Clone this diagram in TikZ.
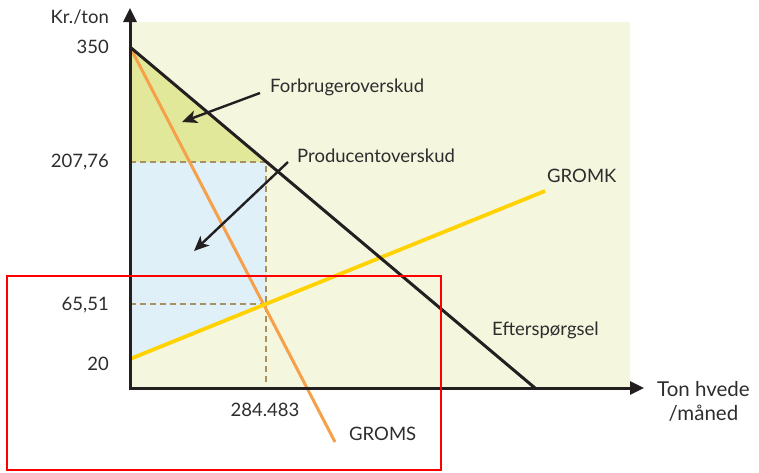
\documentclass[tikz,border=0pt]{standalone}
\usepackage{fontspec}
\setmainfont{Lato}
\usetikzlibrary{arrows.meta, positioning, calc}
\definecolor{bgcream}{RGB}{244,246,222}
\definecolor{cslime}{RGB}{226,232,153}
\definecolor{psky}{RGB}{223,240,248}
\definecolor{gromsorange}{RGB}{247,160,74}
\definecolor{gromkyellow}{RGB}{255,210,0}
\definecolor{guide}{RGB}{168,144,96}
\definecolor{ink}{RGB}{35,31,32}
\definecolor{labelgray}{RGB}{45,45,45}

\tikzset{
  axis/.style={ink, line width=3pt, -{Triangle[length=14pt,width=13pt]}},
  guideline/.style={guide, line width=2.2pt, dash pattern=on 6pt off 4pt},
  pointer/.style={ink, line width=2.4pt, -{Stealth[length=15pt,width=13pt,inset=4pt]}},
  lbl/.style={labelgray, inner sep=1pt},
}

\begin{document}
\begin{tikzpicture}[x=1pt, y=-1pt, font=\fontsize{18.5}{20}\selectfont]
  \useasboundingbox (0,0) rectangle (759,472);
  % background and surplus areas
  \fill[bgcream] (130,22) rectangle (630,388);
  \fill[cslime] (130,47) -- (266,162) -- (130,162) -- cycle;
  \fill[psky] (130,162) -- (266,162) -- (266,304) -- (130,359) -- cycle;
  % named points
  \coordinate (origin) at (130,388);
  \coordinate (ytop) at (130,8);
  \coordinate (xend) at (644,388);
  \coordinate (dtop) at (130,47);
  \coordinate (dend) at (535,388);
  \coordinate (ce) at (266,162);
  \coordinate (pe) at (266,304);
  \coordinate (kstart) at (130,359);
  \coordinate (kend) at (545,191);
  \coordinate (send) at (335,442);
  % guides
  \draw[guideline] (130,162) -- (ce) -- (266,383);
  \draw[guideline] (130,304) -- (pe);
  % curves
  \draw[gromsorange, line width=3pt] (dtop) -- (send);
  \draw[gromkyellow, line width=3.8pt] (kstart) -- (kend);
  \draw[ink, line width=3pt] (dtop) -- (dend);
  % axes
  \draw[axis] (origin) -- (ytop);
  \draw[axis] ($(origin)+(-1.5,0)$) -- (xend);
  % axis labels
  \node[lbl, anchor=east] (ylab) at (110,17) {Kr./ton};
  \node[lbl, anchor=east] (p350) at (110,47) {350};
  \node[lbl, anchor=east] (p207) at (110,162) {207,76};
  \node[lbl, anchor=east] (p65) at (110,305) {65,51};
  \node[lbl, anchor=east] (p20) at (110,364) {20};
  \node[lbl] (q284) at (265,410) {284.483};
  \node[lbl, anchor=west, align=center, font=\fontsize{20.5}{24}\selectfont] (xlab) at (656,401) {Ton hvede\\/måned};
  % curve labels
  \node[lbl, anchor=west] (gromk) at (546,176) {GROMK};
  \node[lbl, anchor=west] (groms) at (348,434) {GROMS};
  \node[lbl, anchor=west] (demand) at (491,330) {Efterspørgsel};
  % surplus labels and pointers
  \node[lbl, anchor=west] (cs) at (269,87) {Forbrugeroverskud};
  \node[lbl, anchor=west] (ps) at (296,156) {Producentoverskud};
  \coordinate (cstip) at (182,122);
  \coordinate (pstip) at (194,251);
  \draw[pointer] ($(cs.west)+(-9,6)$) -- (cstip);
  \draw[pointer] ($(ps.west)+(-8,6)$) -- (pstip);
  % highlight frame
  \draw[red, line width=2pt] (7,276) rectangle (441,470);
\end{tikzpicture}
\end{document}
